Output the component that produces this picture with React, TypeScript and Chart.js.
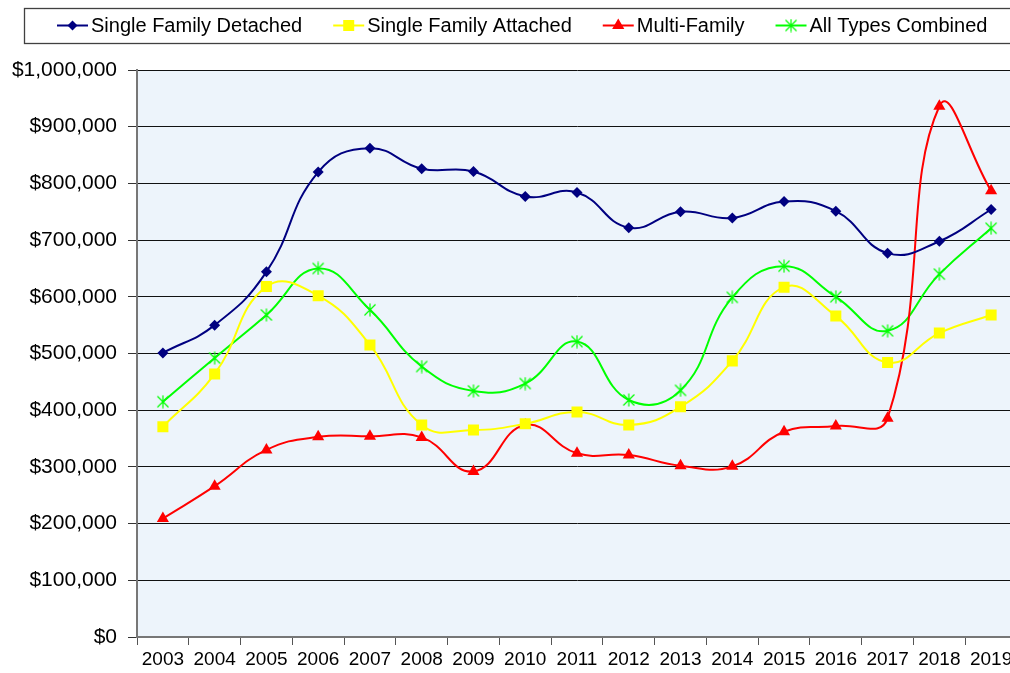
import React, { useEffect, useRef } from "react";
import { Chart, registerables } from "chart.js";

Chart.register(...registerables);

const years = ["2003", "2004", "2005", "2006", "2007", "2008", "2009", "2010", "2011", "2012", "2013", "2014", "2015", "2016", "2017", "2018", "2019"];
const detached = [501000, 550000, 644000, 820000, 862000, 826000, 821000, 777000, 784000, 722000, 750000, 739000, 768000, 751000, 677000, 698000, 754000];
const attached = [371000, 464000, 618000, 602000, 515000, 374000, 365000, 376000, 397000, 374000, 406000, 487000, 617000, 566000, 484000, 536000, 568000];
const multi = [209000, 266000, 330000, 353000, 354000, 352000, 292000, 374000, 324000, 321000, 302000, 301000, 362000, 372000, 386000, 936000, 787000];
const combined = [415000, 492000, 568000, 650000, 577000, 477000, 434000, 447000, 521000, 418000, 435000, 599000, 654000, 600000, 540000, 640000, 721000];
const seriesNames = ["Single Family Detached", "Single Family Attached", "Multi-Family", "All Types Combined"];

const NAVY = "#000080";
const YELLOW = "#FFFF00";
const RED = "#FF0000";
const LIME = "#00FF00";
const FONT = "'Liberation Sans', Arial, Helvetica, sans-serif";

function makeStar(color: string, size: number) {
  const c = document.createElement("canvas");
  c.width = size;
  c.height = size;
  const g = c.getContext("2d")!;
  g.strokeStyle = color;
  g.lineWidth = 1.2;
  const m = size / 2;
  const r = size / 2 - 0.5;
  g.beginPath();
  g.moveTo(m, m - r);
  g.lineTo(m, m + r);
  const d = r * 0.85;
  g.moveTo(m - d, m - d);
  g.lineTo(m + d, m + d);
  g.moveTo(m + d, m - d);
  g.lineTo(m - d, m + d);
  g.stroke();
  return c;
}

function drawMarker(ctx: CanvasRenderingContext2D, kind: string, x: number, y: number, color: string, star: HTMLCanvasElement) {
  ctx.save();
  ctx.fillStyle = color;
  if (kind === "diamond") {
    ctx.beginPath();
    ctx.moveTo(x - 5, y);
    ctx.lineTo(x, y - 5);
    ctx.lineTo(x + 5, y);
    ctx.lineTo(x, y + 5);
    ctx.closePath();
    ctx.fill();
  } else if (kind === "square") {
    ctx.fillRect(x - 5.5, y - 5.5, 11, 11);
  } else if (kind === "triangle") {
    ctx.beginPath();
    ctx.moveTo(x, y - 7);
    ctx.lineTo(x + 6.1, y + 3.5);
    ctx.lineTo(x - 6.1, y + 3.5);
    ctx.closePath();
    ctx.fill();
  } else {
    ctx.drawImage(star, x - star.width / 2, y - star.height / 2);
  }
  ctx.restore();
}

export default function App() {
  const ref = useRef<HTMLCanvasElement>(null);

  useEffect(() => {
    const canvas = ref.current!;
    const star = makeStar(LIME, 14);
    const colors = [NAVY, YELLOW, RED, LIME];
    const kinds = ["diamond", "square", "triangle", "star"];

    const bgPlugin = {
      id: "plotBg",
      beforeDraw(chart: any) {
        const { ctx, chartArea } = chart;
        ctx.save();
        ctx.fillStyle = "#EDF4FB";
        ctx.fillRect(chartArea.left, chartArea.top, chartArea.right - chartArea.left, chartArea.bottom - chartArea.top);
        ctx.restore();
      },
    };

    const legendPlugin = {
      id: "boxLegend",
      afterDraw(chart: any) {
        const ctx: CanvasRenderingContext2D = chart.ctx;
        ctx.save();
        ctx.strokeStyle = "#404040";
        ctx.lineWidth = 1.3;
        ctx.strokeRect(24.5, 8.5, 1020, 35);
        ctx.font = "20px " + FONT;
        ctx.textBaseline = "middle";
        ctx.fillStyle = "#000";
        let x = 57;
        const y = 25.5;
        seriesNames.forEach((name, i) => {
          ctx.strokeStyle = colors[i];
          ctx.lineWidth = 2;
          ctx.beginPath();
          ctx.moveTo(x, y);
          ctx.lineTo(x + 31, y);
          ctx.stroke();
          drawMarker(ctx, kinds[i], x + 15.5, y, colors[i], star);
          ctx.fillStyle = "#000";
          ctx.fillText(name, x + 34, y + 1);
          x += 34 + ctx.measureText(name).width + 31;
        });
        ctx.restore();
      },
    };

    const mk = (label: string, data: number[], color: string, style: any, radius: number) => ({
      label,
      data,
      borderColor: color,
      backgroundColor: color,
      borderWidth: 2,
      pointStyle: style,
      pointRadius: radius,
      pointHoverRadius: radius,
      pointBorderWidth: 0,
      pointBackgroundColor: color,
      tension: 0.45,
      fill: false,
    });

    const chart = new Chart(canvas, {
      type: "line",
      data: {
        labels: years,
        datasets: [
          mk(seriesNames[0], detached, NAVY, "rectRot", 5.5),
          mk(seriesNames[1], attached, YELLOW, "rect", 7.8),
          mk(seriesNames[2], multi, RED, "triangle", 7),
          mk(seriesNames[3], combined, LIME, star, 7),
        ],
      },
      options: {
        animation: false,
        responsive: false,
        devicePixelRatio: 1,
        layout: { padding: { top: 70, left: 0, right: 13, bottom: 0 } },
        plugins: { legend: { display: false }, tooltip: { enabled: false } },
        scales: {
          x: {
            offset: true,
            afterFit: (s: any) => { s.height = 36; },
            grid: { display: true, drawOnChartArea: false, drawTicks: true, tickLength: 8, offset: true, color: "#555", lineWidth: 1 },
            border: { display: true, color: "#777", width: 2 },
            ticks: { color: "#000", font: { size: 19, family: FONT }, padding: 3, maxRotation: 0, autoSkip: false },
          },
          y: {
            min: 0,
            max: 1000000,
            afterFit: (s: any) => { s.width = 137; },
            grid: { color: "#111", lineWidth: 1, tickLength: 9, tickColor: "#333" },
            border: { display: true, color: "#777", width: 2 },
            ticks: {
              stepSize: 100000,
              color: "#000",
              padding: 11,
              font: { size: 21, family: FONT },
              callback: (v: any) => "$" + Number(v).toLocaleString("en-US"),
            },
          },
        },
      },
      plugins: [bgPlugin, legendPlugin],
    });
    return () => chart.destroy();
  }, []);

  return (
    <div style={{ position: "fixed", left: 0, top: 0, width: 1010, height: 673, overflow: "hidden", background: "#fff" }}>
      <canvas ref={ref} width={1030} height={673} style={{ width: 1030, height: 673, display: "block" }} />
    </div>
  );
}
